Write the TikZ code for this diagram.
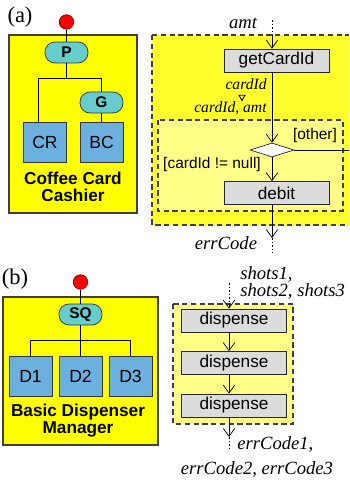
\documentclass[tikz,border=0pt]{standalone}
\usepackage{fontspec}
\setmainfont{Liberation Sans}
\newfontfamily\timesfont{Liberation Serif}
\usetikzlibrary{positioning, calc, shapes.geometric, arrows.meta}

\definecolor{compyellow}{HTML}{FFFF00}
\definecolor{actyellow}{HTML}{FFFF2E}
\definecolor{paleyellow}{HTML}{FFFF88}
\definecolor{pillteal}{HTML}{66CCCC}
\definecolor{partblue}{HTML}{6CB0E0}
\definecolor{actgray}{HTML}{DCDCDC}

\begin{document}
\begin{tikzpicture}[x=0.02cm, y=-0.02cm,
        >={Straight Barb[length=4.5pt,width=6.5pt]},
        compbox/.style={draw=black!75, line width=0.6pt, fill=compyellow},
        actbox/.style={draw=black!75, line width=0.6pt, dash pattern=on 3pt off 2pt, fill=actyellow},
        innerbox/.style={draw=black!75, line width=0.6pt, dash pattern=on 3pt off 2pt, fill=paleyellow},
        rootdot/.style={circle, draw=red!50!black, fill=red, minimum size=0.29cm, inner sep=0pt},
        pill/.style={draw=black!80, fill=pillteal, rounded corners=0.2cm, minimum width=0.86cm, minimum height=0.42cm, inner sep=0pt, font=\fontsize{8.8}{9}\selectfont\bfseries},
        partbox/.style={draw=black!80, fill=partblue, minimum width=0.86cm, minimum height=0.8cm, inner sep=0pt, font=\fontsize{10}{11}\selectfont},
        actnode/.style={draw=black!85, fill=actgray, minimum width=2.1cm, minimum height=0.46cm, inner sep=0pt, font=\fontsize{9.8}{10}\selectfont},
        choice/.style={diamond, draw=black!85, fill=white, minimum width=0.88cm, minimum height=0.28cm, inner sep=0pt},
        pinmark/.style={regular polygon, regular polygon sides=3, shape border rotate=180, draw, line width=0.5pt, minimum size=0.14cm, inner sep=0pt},
        flowdot/.style={dash pattern=on 1pt off 1pt},
        title/.style={align=center, font=\fontsize{9.8}{9.6}\selectfont\bfseries},
        guard/.style={inner sep=0pt, font=\fontsize{8.8}{9}\selectfont},
        lbl/.style={inner sep=0pt, font=\fontsize{10.6}{11}\selectfont\timesfont\itshape},
        lblsmall/.style={inner sep=0pt, font=\fontsize{8.9}{9}\selectfont\timesfont\itshape},
        panel/.style={inner sep=0pt, font=\fontsize{12.8}{13}\selectfont\timesfont}]

        \useasboundingbox (0,0) rectangle (349,480);
        \clip (0,0) rectangle (349,480);

        % (a) coffee card cashier
        \node[panel] at (20,17) {(a)};
        \draw[compbox] (9,35) rectangle (137,213);
        \node[rootdot] (rootA) at (66.5,22) {};
        \node[pill] (P) at (66.5,52.5) {P};
        \node[pill] (G) at (101.5,102.5) {G};
        \node[partbox] (CR) at (45,142) {CR};
        \node[partbox] (BC) at (101.5,142) {BC};
        \node[title] at (73,187) {Coffee Card\\Cashier};

        \coordinate (crTop) at (38,122);
        \draw (rootA) -- (P);
        \draw (P.south) -- ++(0,15) coordinate (jA);
        \draw (crTop) |- (jA) -| (G.north);
        \draw (G) -- (BC);

        % (a) activity
        \draw[actbox] (152,35) rectangle (360,225);
        \draw[innerbox] (158,120) rectangle (343,211);

        \node[actnode] (getCardId) at (276.5,60.5) {getCardId};
        \node[choice] (dia) at (272,150) {};
        \node[actnode] (debit) at (276.5,193) {debit};

        \coordinate (inA) at (272,20);
        \coordinate (edgeA) at (272,35);
        \coordinate (outA) at (272,238);
        \coordinate (endA) at (272,253);
        \coordinate (otherA) at (360,150);

        \draw[flowdot] (inA) -- (edgeA);
        \draw[->] (edgeA) -- (getCardId.north -| edgeA);
        \draw[->] (getCardId.south -| dia) -- (dia.north);
        \draw[->] (dia.south) -- (debit.north -| dia);
        \draw (dia.east) -- (otherA);
        \draw[->] (debit.south -| dia) -- (outA);
        \draw[flowdot] (outA) -- (endA);

        \node[lbl] (amtLbl) at (243,23) {amt};
        \node[lblsmall, anchor=east] (cardIdLbl) at (267,84) {cardId};
        \node[pinmark] (pinA) at (242,97) {};
        \node[lblsmall, anchor=east] (cardAmtLbl) at (267,108) {cardId, amt};
        \node[guard] (otherLbl) at (315,136) {[other]};
        \node[guard] (nullLbl) at (212,165) {[cardId != null]};
        \node[lbl] (errLbl) at (226,243) {errCode};

        % (b) basic dispenser manager
        \node[panel] at (15,279) {(b)};
        \draw[compbox] (3,297) rectangle (158,445);
        \node[rootdot] (rootB) at (80.5,282) {};
        \node[pill] (SQ) at (80.5,314.5) {SQ};
        \node[partbox] (D1) at (30.5,376) {D1};
        \node[partbox] (D2) at (80.5,376) {D2};
        \node[partbox] (D3) at (130.5,376) {D3};
        \node[title] at (78,421) {Basic Dispenser\\Manager};

        \draw (rootB) -- (SQ);
        \draw (SQ.south) -- ++(0,14.5) coordinate (jB);
        \draw (D1.north) |- (jB) -| (D3.north);
        \draw (jB) -- (D2.north);

        % (b) activity
        \draw[innerbox] (173,304) rectangle (293,424);
        \node[actnode] (disp1) at (234,320.5) {dispense};
        \node[actnode] (disp2) at (234,363) {dispense};
        \node[actnode] (disp3) at (234,405.5) {dispense};

        \coordinate (inB) at (229,283);
        \coordinate (edgeB) at (229,304);
        \coordinate (outB) at (229,437);
        \coordinate (endB) at (229,448);

        \draw[flowdot] (inB) -- (edgeB);
        \draw[->] (edgeB) -- (disp1.north -| edgeB);
        \draw[->] (disp1.south -| edgeB) -- (disp2.north -| edgeB);
        \draw[->] (disp2.south -| edgeB) -- (disp3.north -| edgeB);
        \draw[->] (disp3.south -| edgeB) -- (outB);
        \draw[flowdot] (outB) -- (endB);

        \node[lbl, anchor=west] (shotsLbl) at (240,274) {shots1,};
        \node[lbl, anchor=west] (shotsLblB) at (240,291) {shots2, shots3};
        \node[lbl, anchor=west] (errLblB) at (237,444) {errCode1,};
        \node[lbl] (errLblC) at (257,469) {errCode2, errCode3};
    \end{tikzpicture}
\end{document}
